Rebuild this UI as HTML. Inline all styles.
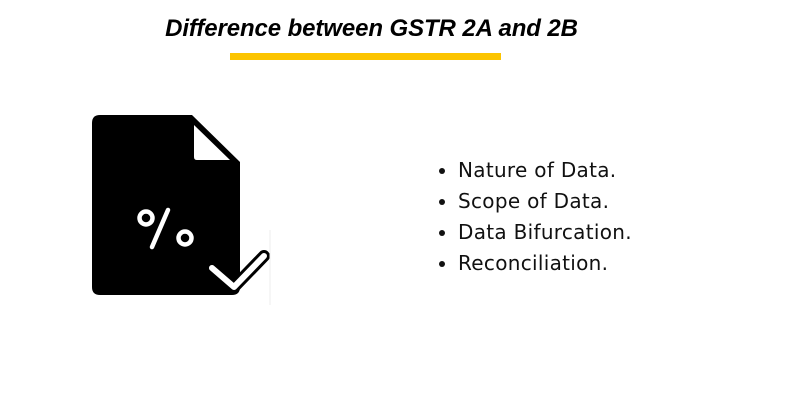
<!DOCTYPE html>
<html><head><style>
body{margin:0;width:800px;height:400px;background:#fff;position:relative;overflow:hidden;font-family:"Liberation Sans",sans-serif}
.t{position:absolute;left:0;width:743px;text-align:center;top:15px;font-size:24px;font-style:italic;font-weight:bold;letter-spacing:-0.1px;color:#000}
.bar{position:absolute;left:230px;top:53px;width:271px;height:7px;background:#fcc400}
ul{position:absolute;left:438px;top:155px;margin:0;padding:0 0 0 20px;font-family:"DejaVu Sans","Liberation Sans",sans-serif;font-size:20px;line-height:31px;color:#111;letter-spacing:0.3px}
</style></head><body>
<div class="t">Difference between GSTR 2A and 2B</div>
<div class="bar"></div>
<svg width="800" height="400" style="position:absolute;left:0;top:0">
<path d="M100 115 H192 L240 162 V287 Q240 295 232 295 H100 Q92 295 92 287 V123 Q92 115 100 115 Z" fill="#000"/>
<path d="M194 125 L230 160 H197 Q194 160 194 157 Z" fill="#fff"/>
<circle cx="146" cy="218" r="6.5" fill="none" stroke="#fff" stroke-width="4.5"/>
<circle cx="185" cy="238" r="6.5" fill="none" stroke="#fff" stroke-width="4.5"/>
<line x1="152" y1="247" x2="168" y2="210" stroke="#fff" stroke-width="4.5" stroke-linecap="round"/>
<polyline points="212,268 234,287 264,256" fill="none" stroke="#000" stroke-width="12" stroke-linecap="round" stroke-linejoin="round"/>
<polyline points="212,268 234,287 264,256" fill="none" stroke="#fff" stroke-width="6" stroke-linecap="round" stroke-linejoin="round"/>
<line x1="270" y1="230" x2="270" y2="305" stroke="#eee" stroke-width="1"/>
</svg>
<ul><li>Nature of Data.</li><li>Scope of Data.</li><li>Data Bifurcation.</li><li>Reconciliation.</li></ul>
</body></html>
